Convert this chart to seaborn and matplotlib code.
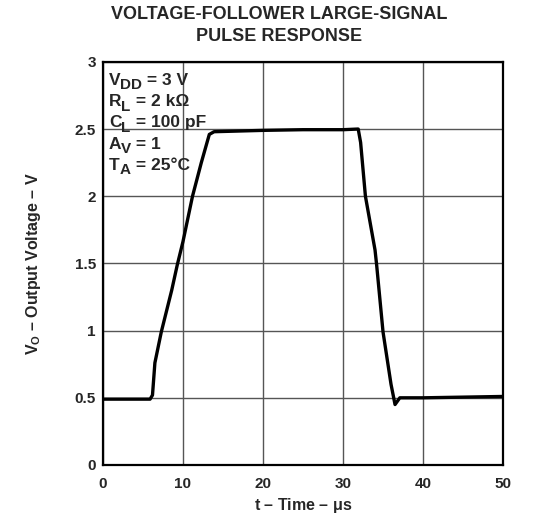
import seaborn as sns
import matplotlib.pyplot as plt
import pandas as pd

# pulse response
time_us = [0, 3, 5.9, 6.2, 6.5, 7.3, 8.6, 9.3, 10.0, 11.2, 12.3, 13.3, 13.9, 20, 25, 30, 31.9,
           32.2, 32.8, 34.0, 34.2, 35.0, 36.0, 36.5, 37.1, 40, 45, 50]
vout = [0.49, 0.49, 0.49, 0.52, 0.76, 0.99, 1.30, 1.49, 1.66, 2.00, 2.25, 2.46, 2.48, 2.49, 2.495, 2.495, 2.50,
        2.40, 2.00, 1.60, 1.49, 0.99, 0.60, 0.45, 0.50, 0.50, 0.505, 0.51]
x_ticks = [0, 10, 20, 30, 40, 50]
y_ticks = [0, 0.5, 1, 1.5, 2, 2.5, 3]
y_ticklabels = ["0", "0.5", "1", "1.5", "2", "2.5", "3"]
# (symbol, subscript, rest) for the test conditions box
cond_sym = ["V", "R", "C", "A", "T"]
cond_sub = ["DD", "L", "L", "V", "A"]
cond_rest = [" = 3 V", " = 2 kΩ", " = 100 pF", " = 1", " = 25°C"]

sns.set_style("white")
plt.rcParams['font.family'] = ['Liberation Sans', 'DejaVu Sans']
plt.rcParams['font.weight'] = 'bold'
plt.rcParams['mathtext.fontset'] = 'custom'
plt.rcParams['mathtext.rm'] = 'Liberation Sans:bold'
plt.rcParams['mathtext.it'] = 'Liberation Sans:bold'
plt.rcParams['mathtext.bf'] = 'Liberation Sans:bold'

df = pd.DataFrame({"t": time_us, "v": vout})

fig = plt.figure(figsize=(5.59, 5.24), dpi=100)
ax = fig.add_axes([0.184, 0.1126, 0.716, 0.7694])
sns.lineplot(x="t", y="v", data=df, color="black", linewidth=2.4, ax=ax, sort=False)

ax.set_xlim(0, 50)
ax.set_ylim(0, 3)
ax.set_xticks(x_ticks)
ax.set_yticks(y_ticks)
ax.set_yticklabels(y_ticklabels)
ax.grid(True, color="#555555", linewidth=1.0)
ax.tick_params(length=0, labelsize=11)
ax.tick_params(axis="x", pad=9)
ax.tick_params(axis="y", pad=5)
for lab in ax.get_xticklabels() + ax.get_yticklabels():
    lab.set_fontweight("bold")
for s in ax.spines.values():
    s.set_color("black")
    s.set_linewidth(1.6)

ax.set_xlabel(r"t – Time – $\mu$s", fontsize=11.5, fontweight="bold", labelpad=3)
ax.set_ylabel(r"$V_O$ – Output Voltage – V", fontsize=11.5, fontweight="bold", labelpad=23)
fig.text(0.5, 0.988, "VOLTAGE-FOLLOWER LARGE-SIGNAL\nPULSE RESPONSE", fontsize=13.0,
         fontweight="bold", ha="center", va="top", linespacing=1.35)

for i in range(len(cond_sym)):
    first = ax.text(0.015, 0.935 - i * 0.0525, cond_sym[i], transform=ax.transAxes,
                    fontsize=12.5, fontweight="bold", va="bottom", ha="left")
    sub = ax.annotate(cond_sub[i], xy=(1, 0), xycoords=(first, first), xytext=(0, -3.2),
                      textcoords="offset points", fontsize=11, fontweight="bold",
                      va="bottom", ha="left")
    ax.annotate(cond_rest[i], xy=(1, 0), xycoords=(sub, first), xytext=(0, 0),
                textcoords="offset points", fontsize=12.5, fontweight="bold",
                va="bottom", ha="left")

fig.savefig("out.png", dpi=100)
